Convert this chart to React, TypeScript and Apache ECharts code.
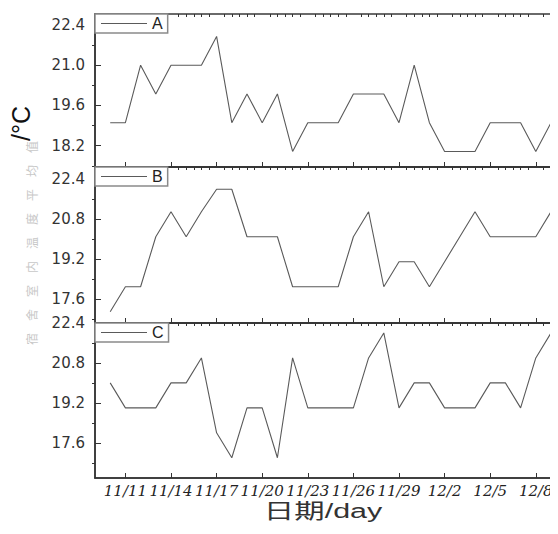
import React, { useEffect, useRef } from 'react';
import * as echarts from 'echarts';

// Axis day positions: 11/9 (index 0) .. 12/9 (index 30)
const axisDates = [
  '11/9', '11/10', '11/11', '11/12', '11/13', '11/14', '11/15', '11/16', '11/17', '11/18',
  '11/19', '11/20', '11/21', '11/22', '11/23', '11/24', '11/25', '11/26', '11/27', '11/28',
  '11/29', '11/30', '12/1', '12/2', '12/3', '12/4', '12/5', '12/6', '12/7', '12/8', '12/9',
];
const dataDates = axisDates.slice(1);
const xTickLabels = ['11/11', '11/14', '11/17', '11/20', '11/23', '11/26', '11/29', '12/2', '12/5', '12/8'];

const seriesNames = ['A', 'B', 'C'];
const seriesA = [19, 19, 21, 20, 21, 21, 21, 22, 19, 20, 19, 20, 18, 19, 19, 19, 20, 20, 20, 19, 21, 19, 18, 18, 18, 19, 19, 19, 18, 19];
const seriesB = [17.1, 18.1, 18.1, 20.1, 21.1, 20.1, 21.1, 22.0, 22.0, 20.1, 20.1, 20.1, 18.1, 18.1, 18.1, 18.1, 20.1, 21.1, 18.1, 19.1, 19.1, 18.1, 19.1, 20.1, 21.1, 20.1, 20.1, 20.1, 20.1, 21.1];
const seriesC = [20, 19, 19, 19, 20, 20, 21, 18, 17, 19, 19, 17, 21, 19, 19, 19, 19, 21, 22, 19, 20, 20, 19, 19, 19, 20, 20, 19, 21, 22];

const yTicksA = [18.2, 19.6, 21.0, 22.4];
const yMinorA = [17.5, 18.9, 20.3, 21.7];
const yTicksBC = [17.6, 19.2, 20.8, 22.4];
const yMinorBC = [16.8, 18.4, 20.0, 21.6];
const yMins = [17.46, 16.65, 16.19];
const yMaxs = [22.78, 22.89, 22.4];

export default function App() {
  const ref = useRef<HTMLDivElement>(null);
  useEffect(() => {
    if (!ref.current) return;
    const chart = echarts.init(ref.current, undefined, { renderer: 'svg' });

    const allSeries = [seriesA, seriesB, seriesC];
    const gridTops = [14, 167, 323];
    const gridHeights = [153, 156, 155];
    const majorX = xTickLabels.map((d) => axisDates.indexOf(d));
    const minorX: number[] = [];
    for (let v = 0; v <= axisDates.length - 1; v += 0.5) {
      if (!majorX.includes(v)) minorX.push(v);
    }
    const yMajor = [yTicksA, yTicksBC, yTicksBC];
    const yMinor = [yMinorA, yMinorBC, yMinorBC];

    const grids = gridTops.map((t, i) => ({
      left: 95,
      right: 7,
      top: t,
      height: gridHeights[i],
      show: true,
      borderColor: '#3a3a3a',
      borderWidth: 1.5,
      backgroundColor: 'transparent',
    }));

    const xAxes: any[] = [];
    const yAxes: any[] = [];
    for (let i = 0; i < 3; i++) {
      xAxes.push({
        type: 'value',
        gridIndex: i,
        min: 0,
        max: axisDates.length - 1,
        splitLine: { show: false },
        axisLine: { show: true, lineStyle: { color: '#333', width: 1.5 } },
        axisTick: { show: true, inside: true, length: 5, customValues: majorX, lineStyle: { color: '#333', width: 1 } },
        axisLabel: {
          show: i === 2,
          customValues: majorX,
          showMinLabel: true,
          showMaxLabel: true,
          hideOverlap: false,
          formatter: (v: number) => axisDates[Math.round(v)] ?? '',
          fontFamily: '"DejaVu Serif", "Liberation Serif", serif',
          fontStyle: 'italic',
          fontSize: 15,
          color: '#222',
          margin: 5,
        },
      });
      yAxes.push({
        type: 'value',
        gridIndex: i,
        min: yMins[i],
        max: yMaxs[i],
        splitLine: { show: false },
        axisLine: { show: true, lineStyle: { color: '#333', width: 1.5 } },
        axisTick: { show: true, inside: true, length: 6, customValues: yMajor[i], lineStyle: { color: '#333', width: 1 } },
        axisLabel: {
          show: true,
          customValues: yMajor[i],
          showMinLabel: true,
          showMaxLabel: true,
          formatter: (v: number) => v.toFixed(1),
          fontFamily: '"DejaVu Sans", sans-serif',
          fontSize: 15,
          color: '#333',
          margin: 10,
        },
      });
    }
    for (let i = 0; i < 3; i++) {
      xAxes.push({
        type: 'value',
        gridIndex: i,
        min: 0,
        max: axisDates.length - 1,
        splitLine: { show: false },
        axisLine: { show: false },
        axisTick: { show: true, inside: true, length: 3, customValues: minorX, lineStyle: { color: '#333', width: 1 } },
        axisLabel: { show: false },
      });
      yAxes.push({
        type: 'value',
        gridIndex: i,
        min: yMins[i],
        max: yMaxs[i],
        splitLine: { show: false },
        axisLine: { show: false },
        axisTick: { show: true, inside: true, length: 3, customValues: yMinor[i], lineStyle: { color: '#333', width: 1 } },
        axisLabel: { show: false },
      });
    }

    const series = allSeries.map((vals, i) => ({
      name: seriesNames[i],
      type: 'line',
      xAxisIndex: i,
      yAxisIndex: i,
      symbol: 'none',
      lineStyle: { color: '#5a5a5a', width: 1.1 },
      itemStyle: { color: '#5a5a5a' },
      data: vals.map((v, k) => [axisDates.indexOf(dataDates[k]), v]),
    }));

    const legends = seriesNames.map((n, i) => ({
      data: [{ name: n, icon: 'rect' }],
      left: 95,
      top: gridTops[i],
      orient: 'horizontal',
      itemWidth: 46,
      itemHeight: 1.2,
      padding: [1, 5, 1, 6],
      borderColor: '#8a8a8a',
      borderWidth: 1.5,
      backgroundColor: '#fff',
      itemStyle: { color: '#5a5a5a', borderWidth: 0 },
      lineStyle: { width: 0 },
      textStyle: { fontFamily: '"Liberation Sans", Arial, sans-serif', fontSize: 16, color: '#222', lineHeight: 17 },
    }));

    chart.setOption({
      animation: false,
      backgroundColor: '#fff',
      grid: grids,
      xAxis: xAxes,
      yAxis: yAxes,
      legend: legends,
      series,
      graphic: [
        {
          type: 'text',
          x: 21,
          y: 141,
          rotation: Math.PI / 2,
          style: {
            text: '/°C',
            font: '25px "Liberation Sans", Arial, sans-serif',
            fill: '#111',
            align: 'left',
            verticalAlign: 'middle',
          },
        },
        {
          type: 'text',
          x: 31,
          y: 345,
          rotation: Math.PI / 2,
          style: {
            text: '宿　舍　室　内　温　度　平　均　值',
            font: '12px "Noto Sans CJK SC", sans-serif',
            fill: '#c8c8c8',
            align: 'left',
            verticalAlign: 'middle',
          },
        },
        {
          type: 'text',
          x: 323,
          y: 511,
          scaleX: 1.45,
          style: {
            text: '日期/day',
            font: '21px "Liberation Sans", "Noto Sans CJK SC", sans-serif',
            fill: '#333',
            align: 'center',
            verticalAlign: 'middle',
          },
        },
      ],
    });
    return () => chart.dispose();
  }, []);
  return <div ref={ref} style={{ width: 558, height: 534, margin: -8 }} />;
}
